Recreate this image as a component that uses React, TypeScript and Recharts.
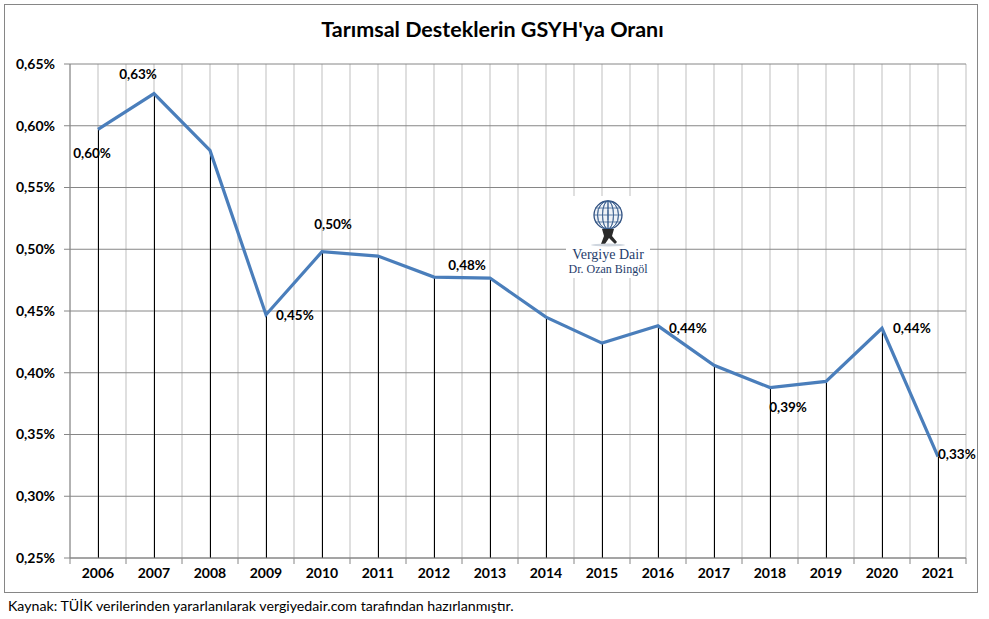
import { ComposedChart, Line, Bar, XAxis, YAxis, CartesianGrid, LabelList } from 'recharts';

const years = ['2006', '2007', '2008', '2009', '2010', '2011', '2012', '2013', '2014', '2015', '2016', '2017', '2018', '2019', '2020', '2021'];
const ratios = [0.597, 0.626, 0.58, 0.447, 0.498, 0.4945, 0.4775, 0.4767, 0.445, 0.424, 0.438, 0.406, 0.388, 0.393, 0.436, 0.332];
const yTicks = [0.25, 0.3, 0.35, 0.4, 0.45, 0.5, 0.55, 0.6, 0.65];
const labelledYears = ['2006', '2007', '2009', '2010', '2013', '2016', '2018', '2020', '2021'];

const title = "Tarımsal Desteklerin GSYH'ya Oranı";
const source = 'Kaynak: TÜİK verilerinden yararlanılarak vergiyedair.com tarafından hazırlanmıştır.';

const data = years.map((year, i) => ({ year, ratio: ratios[i] }));

const FONT = 'Lato, "Liberation Sans", sans-serif';
const SERIF = '"Liberation Serif", "DejaVu Serif", serif';
const AXIS_GRAY = '#868686';

// where each data label sits relative to its point
const labelPlacement: Record<string, { dx: number; dy: number; anchor: 'start' | 'middle' }> = {
  '2006': { dx: -6, dy: 24, anchor: 'middle' },
  '2007': { dx: -16, dy: -19, anchor: 'middle' },
  '2009': { dx: 10, dy: 1, anchor: 'start' },
  '2010': { dx: 11, dy: -27, anchor: 'middle' },
  '2013': { dx: -23, dy: -13, anchor: 'middle' },
  '2016': { dx: 11, dy: 2, anchor: 'start' },
  '2018': { dx: 18, dy: 20, anchor: 'middle' },
  '2020': { dx: 11, dy: 0, anchor: 'start' },
  '2021': { dx: 0, dy: -2, anchor: 'start' },
};

const fmt = (v: number) => v.toFixed(2).replace('.', ',') + '%';

function PointLabel(props: any) {
  const { x, y, value, index } = props;
  const year = years[index];
  if (!labelledYears.includes(year)) return null;
  const p = labelPlacement[year];
  return (
    <text x={x + p.dx} y={y + p.dy} dy="0.35em" textAnchor={p.anchor} fontFamily={FONT} fontSize={13.5} fontWeight="bold" fill="#000">
      {fmt(value)}
    </text>
  );
}

function YearTick(props: any) {
  const { x, y, payload, index } = props;
  const half = 28;
  const axisY = 558;
  return (
    <g>
      <line x1={x - half} y1={axisY} x2={x - half} y2={axisY + 6} stroke={AXIS_GRAY} />
      {index === years.length - 1 && (
        <line x1={x + half} y1={axisY} x2={x + half} y2={axisY + 6} stroke={AXIS_GRAY} />
      )}
      <text x={x} y={y + 12} textAnchor="middle" fontFamily={FONT} fontSize={14} fontWeight="bold" fill="#000">
        {payload.value}
      </text>
    </g>
  );
}

function Watermark() {
  const meridians = [-10, -5, 0, 5, 10];
  return (
    <svg width={84} height={82} style={{ position: 'absolute', left: 566, top: 196 }}>
      <rect x={0} y={0} width={84} height={82} fill="#fff" />
      <circle cx={42} cy={19} r={14} fill="#eef2f7" stroke="#2f4f7f" strokeWidth={1.3} />
      {meridians.map((m) => (
        <ellipse key={m} cx={42} cy={19} rx={Math.abs(m) + 0.5} ry={14} fill="none" stroke="#3b5f8f" strokeWidth={0.8} />
      ))}
      <line x1={29} y1={12} x2={55} y2={12} stroke="#3b5f8f" strokeWidth={0.8} />
      <line x1={28} y1={19} x2={56} y2={19} stroke="#3b5f8f" strokeWidth={0.8} />
      <line x1={29} y1={26} x2={55} y2={26} stroke="#3b5f8f" strokeWidth={0.8} />
      <path d="M36 33 L48 33 L46 40 L51 46 L49 48 L43 42 L39 48 L35 48 L38 40 Z" fill="#2a2a2a" />
      <ellipse cx={42} cy={49} rx={17} ry={1.5} fill="#cfd6df" />
      <text x={42} y={63} textAnchor="middle" fontFamily={SERIF} fontSize={14} fill="#1f3d6b">
        Vergiye Dair
      </text>
      <text x={42} y={77} textAnchor="middle" fontFamily={SERIF} fontSize={12} fill="#1f3d6b">
        Dr. Ozan Bingöl
      </text>
    </svg>
  );
}

export default function App() {
  return (
    <div style={{ position: 'absolute', left: 0, top: 0, width: 989, height: 619, background: '#fff', fontFamily: FONT }}>
      <div style={{ position: 'absolute', left: 4, top: 4, width: 974, height: 589, border: `1px solid ${AXIS_GRAY}`, boxSizing: 'border-box' }} />
      <div style={{ position: 'absolute', left: 0, top: 16, width: 985, textAlign: 'center', fontSize: 21.5, fontWeight: 'bold', color: '#000' }}>
        {title}
      </div>
      <ComposedChart
        width={989}
        height={619}
        data={data}
        margin={{ top: 64, right: 23, bottom: 0, left: 0 }}
      >
        <CartesianGrid
          stroke="#bfbfbf"
          horizontal={false}
          verticalCoordinatesGenerator={({ offset }: any) =>
            Array.from({ length: years.length * 2 + 1 }, (_, k) => offset.left + (k * offset.width) / (years.length * 2))
          }
        />
        <CartesianGrid stroke={AXIS_GRAY} vertical={false} />
        <XAxis
          dataKey="year"
          height={61}
          axisLine={{ stroke: AXIS_GRAY }}
          tickLine={false}
          interval={0}
          tick={<YearTick />}
        />
        <YAxis
          width={70}
          domain={[0.25, 0.65]}
          ticks={yTicks}
          tickFormatter={fmt}
          axisLine={{ stroke: AXIS_GRAY }}
          tickLine={{ stroke: AXIS_GRAY }}
          tickSize={6}
          tickMargin={9}
          tick={{ fill: '#000', fontSize: 14, fontWeight: 'bold', fontFamily: FONT }}
          interval={0}
        />
        <Bar dataKey="ratio" barSize={1} fill="#000" isAnimationActive={false} />
        <Line
          type="linear"
          dataKey="ratio"
          stroke="#4a7ebb"
          strokeWidth={3.2}
          dot={false}
          activeDot={false}
          isAnimationActive={false}
        >
          <LabelList dataKey="ratio" content={<PointLabel />} />
        </Line>
      </ComposedChart>
      <Watermark />
      <div style={{ position: 'absolute', left: 8, top: 597, fontSize: 14.2, color: '#000', whiteSpace: 'nowrap' }}>
        {source}
      </div>
    </div>
  );
}
